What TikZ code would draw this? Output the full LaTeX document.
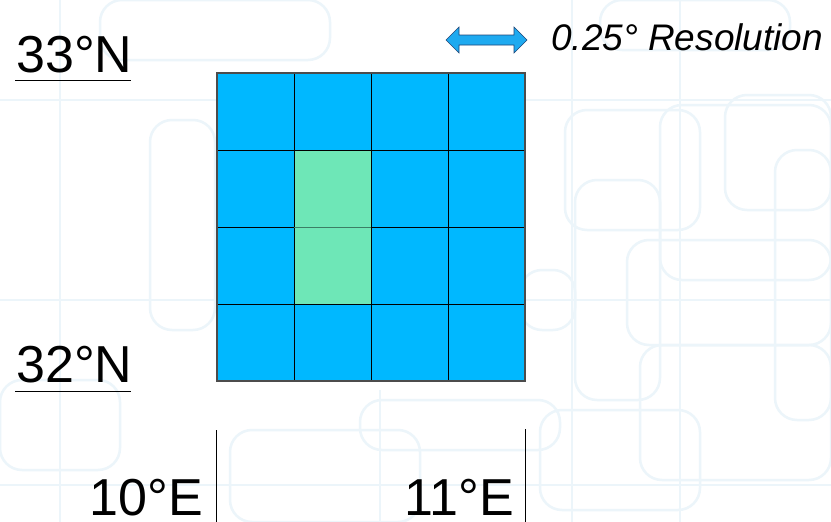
\documentclass[tikz,border=0pt]{standalone}
\usepackage{fontspec}
\setmainfont{Liberation Sans}
\definecolor{cellblue}{RGB}{0,184,255}
\definecolor{cellgreen}{RGB}{110,231,183}
\definecolor{arrowblue}{RGB}{30,170,240}
\definecolor{arrowedge}{RGB}{30,70,120}
\definecolor{bgline}{RGB}{236,245,250}
\begin{document}
\begin{tikzpicture}[x=1pt,y=-1pt,
  cell/.style={draw=black, line width=0.9pt, fill=cellblue, minimum width=77pt, minimum height=77pt, inner sep=0pt, outer sep=0pt},
  greencell/.style={draw=black, line width=0.9pt, fill=cellgreen, minimum width=77pt, minimum height=154pt, inner sep=0pt, outer sep=0pt},
  biglabel/.style={font=\fontsize{52}{52}\selectfont, inner sep=0pt, text depth=0pt, text=black},
  tick/.style={draw=black, line width=0.8pt},
  bg/.style={draw=bgline, line width=2.5pt, rounded corners=22pt}]
\useasboundingbox (0,0) rectangle (831,522);
\fill[white] (0,0) rectangle (831,522);
% faint background pattern
\begin{scope}
\draw[bg] (565,110) rectangle (700,230);
\draw[bg] (660,105) rectangle (831,280);
\draw[bg] (725,95) rectangle (831,210);
\draw[bg] (775,150) rectangle (831,420);
\draw[bg] (575,180) rectangle (660,400);
\draw[bg] (627,240) rectangle (831,345);
\draw[bg] (520,270) rectangle (575,330);
\draw[bg] (640,345) rectangle (831,480);
\draw[bg] (540,410) rectangle (700,510);
\draw[bg] (360,400) rectangle (560,450);
\draw[bg] (100,0) rectangle (330,60);
\draw[bg] (0,380) rectangle (120,470);
\draw[bg] (150,120) rectangle (215,330);
\draw[bg] (230,430) rectangle (420,522);
\draw[bg] (600,0) rectangle (790,50);
\draw[bgline, line width=2pt] (0,100) -- (831,100);
\draw[bgline, line width=2pt] (0,300) -- (831,300);
\draw[bgline, line width=2pt] (0,485) -- (831,485);
\draw[bgline, line width=2pt] (60,0) -- (60,522);
\draw[bgline, line width=2pt] (572,0) -- (572,522);
\draw[bgline, line width=2pt] (680,0) -- (680,522);
\draw[bgline, line width=2pt] (380,390) -- (380,522);
\end{scope}
% grid cells
\foreach \r in {0,1,2,3}{
  \foreach \c in {0,1,2,3}{
    \node[cell] (c\r\c) at ({217+77*\c+38.5},{73+77*\r+38.5}) {};
  }
}
\node[greencell] (green) at (332.5,227) {};
\draw[black!45!cellgreen, line width=0.8pt] (green.west) -- (green.east);
\draw[black!70, line width=1.2pt] (c00.north west) rectangle (c33.south east);
% latitude labels
\node[biglabel, anchor=base west] (n33) at (16,72) {33°N};
\draw[tick] (15,80) -- (131,80);
\node[biglabel, anchor=base west] (n32) at (16,382) {32°N};
\draw[tick] (15,391) -- (131,391);
% longitude labels
\node[biglabel, anchor=base east] (e10) at (203,515) {10°E};
\draw[tick] (216,430) -- (216,522);
\node[biglabel, anchor=base east] (e11) at (514,515) {11°E};
\draw[tick] (525,429) -- (525,522);
% resolution arrow
\draw[fill=arrowblue, draw=arrowedge, line width=0.6pt, line join=miter]
  (446,40) -- (459,27) -- (459,35) -- (514,35) -- (514,27) -- (527,40)
  -- (514,53) -- (514,45) -- (459,45) -- (459,53) -- cycle;
\node[font=\itshape\fontsize{37}{37}\selectfont, anchor=base west, inner sep=0pt] (restext) at (551,50) {0.25° Resolution};
\end{tikzpicture}
\end{document}
